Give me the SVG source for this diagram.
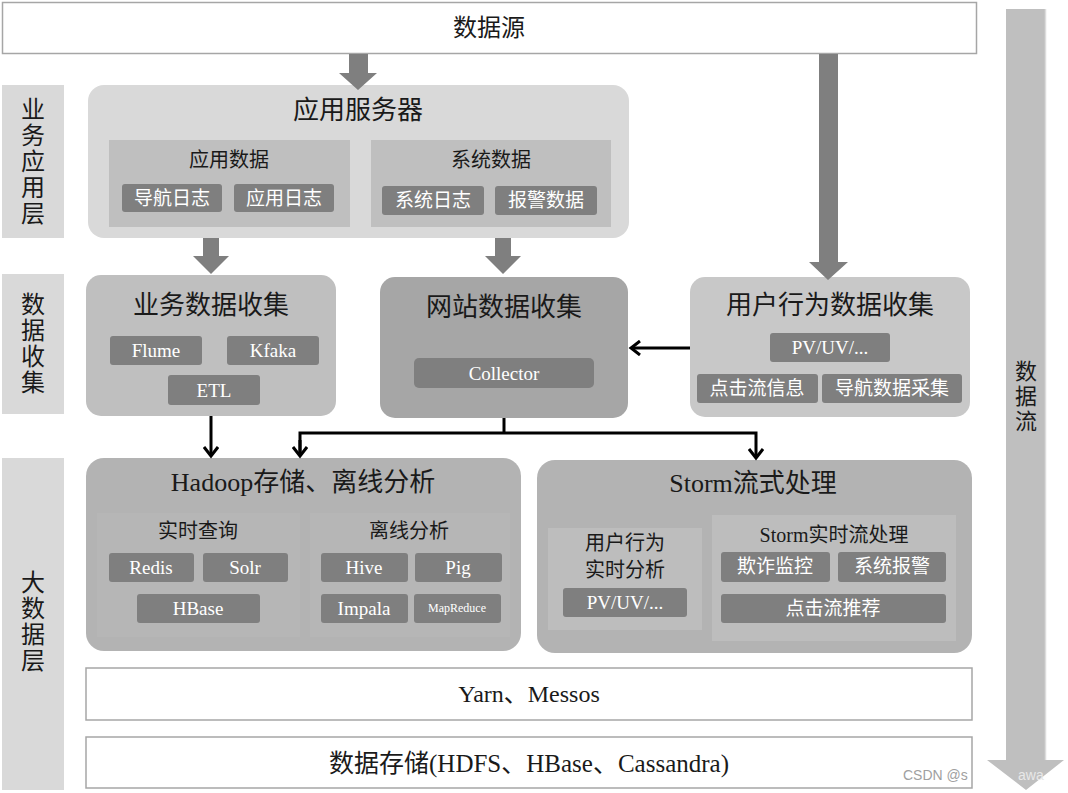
<svg xmlns="http://www.w3.org/2000/svg" width="1068" height="793" viewBox="0 0 1068 793">
<defs>
<style>
text{font-family:"Liberation Serif","Noto Sans CJK SC",serif;dominant-baseline:central;text-anchor:middle;fill:#1a1a1a}
.t26{font-size:26px}
.t24{font-size:24px}
.t20{font-size:20px}
.lb{font-size:24px}
.pt{font-size:19px;fill:#ffffff}
.pill{fill:#7f7f7f}
.lab{fill:#d9d9d9}
.wbox{fill:#ffffff;stroke:#a6a6a6;stroke-width:1.5}
.blk{fill:#7f7f7f}
.ln{fill:none;stroke:#000;stroke-width:3}
.wm{font-family:"Liberation Sans",sans-serif;font-size:14px;text-anchor:start}
</style>
<marker id="ah" markerUnits="userSpaceOnUse" markerWidth="16" markerHeight="16" refX="11" refY="8" orient="auto">
<path d="M2,1 L11,8 L2,15" fill="none" stroke="#000" stroke-width="3"/>
</marker>
</defs>
<rect width="1068" height="793" fill="#ffffff"/>

<g id="dataflow">
<polygon points="1006,9 1045,9 1045,760 1064,760 1026,790 987,760 1006,760" fill="#bfbfbf"/>
<line x1="1045.5" y1="9" x2="1045.5" y2="760" stroke="#dcdcdc" stroke-width="1.5"/>
<text x="1026" y="371" style="font-size:22px">数</text>
<text x="1026" y="396" style="font-size:22px">据</text>
<text x="1026" y="421" style="font-size:22px">流</text>
</g>

<g id="datasource">
<rect class="wbox" x="2.5" y="2.5" width="974" height="51"/>
<text class="t24" x="489" y="28">数据源</text>
</g>

<g id="label-app">
<rect class="lab" x="2" y="85" width="62" height="153"/>
<text class="lb" x="33" y="110">业</text>
<text class="lb" x="33" y="136">务</text>
<text class="lb" x="33" y="162">应</text>
<text class="lb" x="33" y="188">用</text>
<text class="lb" x="33" y="214">层</text>
</g>

<g id="label-collect">
<rect class="lab" x="2" y="274" width="62" height="140"/>
<text class="lb" x="33" y="305">数</text>
<text class="lb" x="33" y="331">据</text>
<text class="lb" x="33" y="357">收</text>
<text class="lb" x="33" y="383">集</text>
</g>

<g id="label-bigdata">
<rect class="lab" x="2" y="458" width="62" height="332"/>
<text class="lb" x="33" y="583">大</text>
<text class="lb" x="33" y="609">数</text>
<text class="lb" x="33" y="635">据</text>
<text class="lb" x="33" y="661">层</text>
</g>

<g id="appserver">
<rect x="88" y="85" width="541" height="153" rx="16" fill="#d9d9d9"/>
<text class="t26" x="358" y="110">应用服务器</text>
<rect x="109" y="140" width="241" height="87" fill="#bfbfbf"/>
<text class="t20" x="229" y="160">应用数据</text>
<rect class="pill" x="122" y="184" width="100" height="28" rx="3"/>
<text class="pt" x="172" y="198">导航日志</text>
<rect class="pill" x="234" y="184" width="100" height="28" rx="3"/>
<text class="pt" x="284" y="198">应用日志</text>
<rect x="371" y="140" width="240" height="87" fill="#bfbfbf"/>
<text class="t20" x="491" y="160">系统数据</text>
<rect class="pill" x="382" y="186" width="102" height="29" rx="3"/>
<text class="pt" x="433" y="200">系统日志</text>
<rect class="pill" x="495" y="186" width="102" height="29" rx="3"/>
<text class="pt" x="546" y="200">报警数据</text>
</g>

<g id="bizcollect">
<rect x="86" y="275" width="250" height="141" rx="15" fill="#bfbfbf"/>
<text class="t26" x="211" y="305">业务数据收集</text>
<rect class="pill" x="110" y="336" width="92" height="29" rx="3"/>
<text class="pt" x="156" y="350">Flume</text>
<rect class="pill" x="227" y="336" width="92" height="29" rx="3"/>
<text class="pt" x="273" y="350">Kfaka</text>
<rect class="pill" x="168" y="375" width="92" height="30" rx="3"/>
<text class="pt" x="214" y="390">ETL</text>
</g>

<g id="webcollect">
<rect x="380" y="277" width="248" height="141" rx="15" fill="#a6a6a6"/>
<text class="t26" x="504" y="307">网站数据收集</text>
<rect class="pill" x="414" y="358" width="180" height="30" rx="5"/>
<text class="pt" x="504" y="373">Collector</text>
</g>

<g id="usercollect">
<rect x="690" y="277" width="280" height="140" rx="15" fill="#c8c8c8"/>
<text class="t26" x="830" y="305">用户行为数据收集</text>
<rect class="pill" x="770" y="333" width="120" height="29" rx="3"/>
<text class="pt" x="830" y="347">PV/UV/...</text>
<rect class="pill" x="697" y="374" width="121" height="29" rx="3"/>
<text class="pt" x="757" y="388">点击流信息</text>
<rect class="pill" x="822" y="374" width="140" height="29" rx="3"/>
<text class="pt" x="892" y="388">导航数据采集</text>
</g>

<g id="hadoop">
<rect x="86" y="458" width="435" height="193" rx="18" fill="#b3b3b3"/>
<text class="t26" x="303" y="482">Hadoop存储、离线分析</text>
<rect x="97" y="513" width="203" height="124" fill="#b6b6b6"/>
<rect x="310" y="513" width="200" height="124" fill="#b6b6b6"/>
<text class="t20" x="198" y="531">实时查询</text>
<text class="t20" x="409" y="531">离线分析</text>
<rect class="pill" x="109" y="553" width="85" height="29" rx="3"/>
<text class="pt" x="151" y="567">Redis</text>
<rect class="pill" x="203" y="553" width="85" height="29" rx="3"/>
<text class="pt" x="245" y="567">Solr</text>
<rect class="pill" x="137" y="594" width="123" height="29" rx="3"/>
<text class="pt" x="198" y="608">HBase</text>
<rect class="pill" x="321" y="553" width="87" height="29" rx="3"/>
<text class="pt" x="364" y="567">Hive</text>
<rect class="pill" x="415" y="553" width="87" height="29" rx="3"/>
<text class="pt" x="458" y="567">Pig</text>
<rect class="pill" x="321" y="594" width="87" height="29" rx="3"/>
<text class="pt" x="364" y="608">Impala</text>
<rect class="pill" x="414" y="594" width="87" height="29" rx="3"/>
<text class="pt" x="457" y="608" style="font-size:12px">MapReduce</text>
</g>

<g id="storm">
<rect x="537" y="460" width="435" height="193" rx="18" fill="#b3b3b3"/>
<text class="t26" x="753" y="483">Storm流式处理</text>
<rect x="548" y="528" width="154" height="102" fill="#bdbdbd"/>
<text class="t20" x="625" y="543">用户行为</text>
<text class="t20" x="625" y="570">实时分析</text>
<rect class="pill" x="563" y="588" width="124" height="29" rx="3"/>
<text class="pt" x="625" y="602">PV/UV/...</text>
<rect x="712" y="515" width="244" height="126" fill="#bdbdbd"/>
<text class="t20" x="834" y="535">Storm实时流处理</text>
<rect class="pill" x="721" y="552" width="109" height="30" rx="3"/>
<text class="pt" x="775" y="566">欺诈监控</text>
<rect class="pill" x="838" y="552" width="108" height="30" rx="3"/>
<text class="pt" x="892" y="566">系统报警</text>
<rect class="pill" x="721" y="594" width="225" height="29" rx="3"/>
<text class="pt" x="833" y="608">点击流推荐</text>
</g>

<g id="yarn">
<rect class="wbox" x="86" y="668" width="886" height="52"/>
<text class="t24" x="529" y="694">Yarn、Messos</text>
</g>

<g id="storage">
<rect class="wbox" x="86" y="737" width="886" height="51"/>
<text class="t24" x="529" y="763" style="font-size:25px">数据存储(HDFS、HBase、Cassandra)</text>
</g>

<g id="watermark">
<text class="wm" x="903" y="775" style="fill:#a0a0a0">CSDN @s</text>
<text class="wm" x="1018" y="775" style="fill:#e8e8e8">awa</text>
</g>

<g id="connectors">
<polygon class="blk" points="349,54 368,54 368,73 377,73 358,90 339,73 349,73"/>
<polygon class="blk" points="819,54 838,54 838,262 848,262 828,280 809,262 819,262"/>
<polygon class="blk" points="203,238 219,238 219,256 229,256 211,274 193,256 203,256"/>
<polygon class="blk" points="495,238 511,238 511,256 521,256 503,274 485,256 495,256"/>
<line class="ln" x1="690" y1="348" x2="631" y2="348" marker-end="url(#ah)"/>
<line class="ln" x1="211" y1="416" x2="211" y2="456" marker-end="url(#ah)"/>
<line class="ln" x1="504" y1="418" x2="504" y2="433"/>
<polyline class="ln" points="300,456 300,433 756,433 756,458" marker-end="url(#ah)"/>
<line class="ln" x1="300" y1="440" x2="300" y2="456" marker-end="url(#ah)"/>
</g>
</svg>
